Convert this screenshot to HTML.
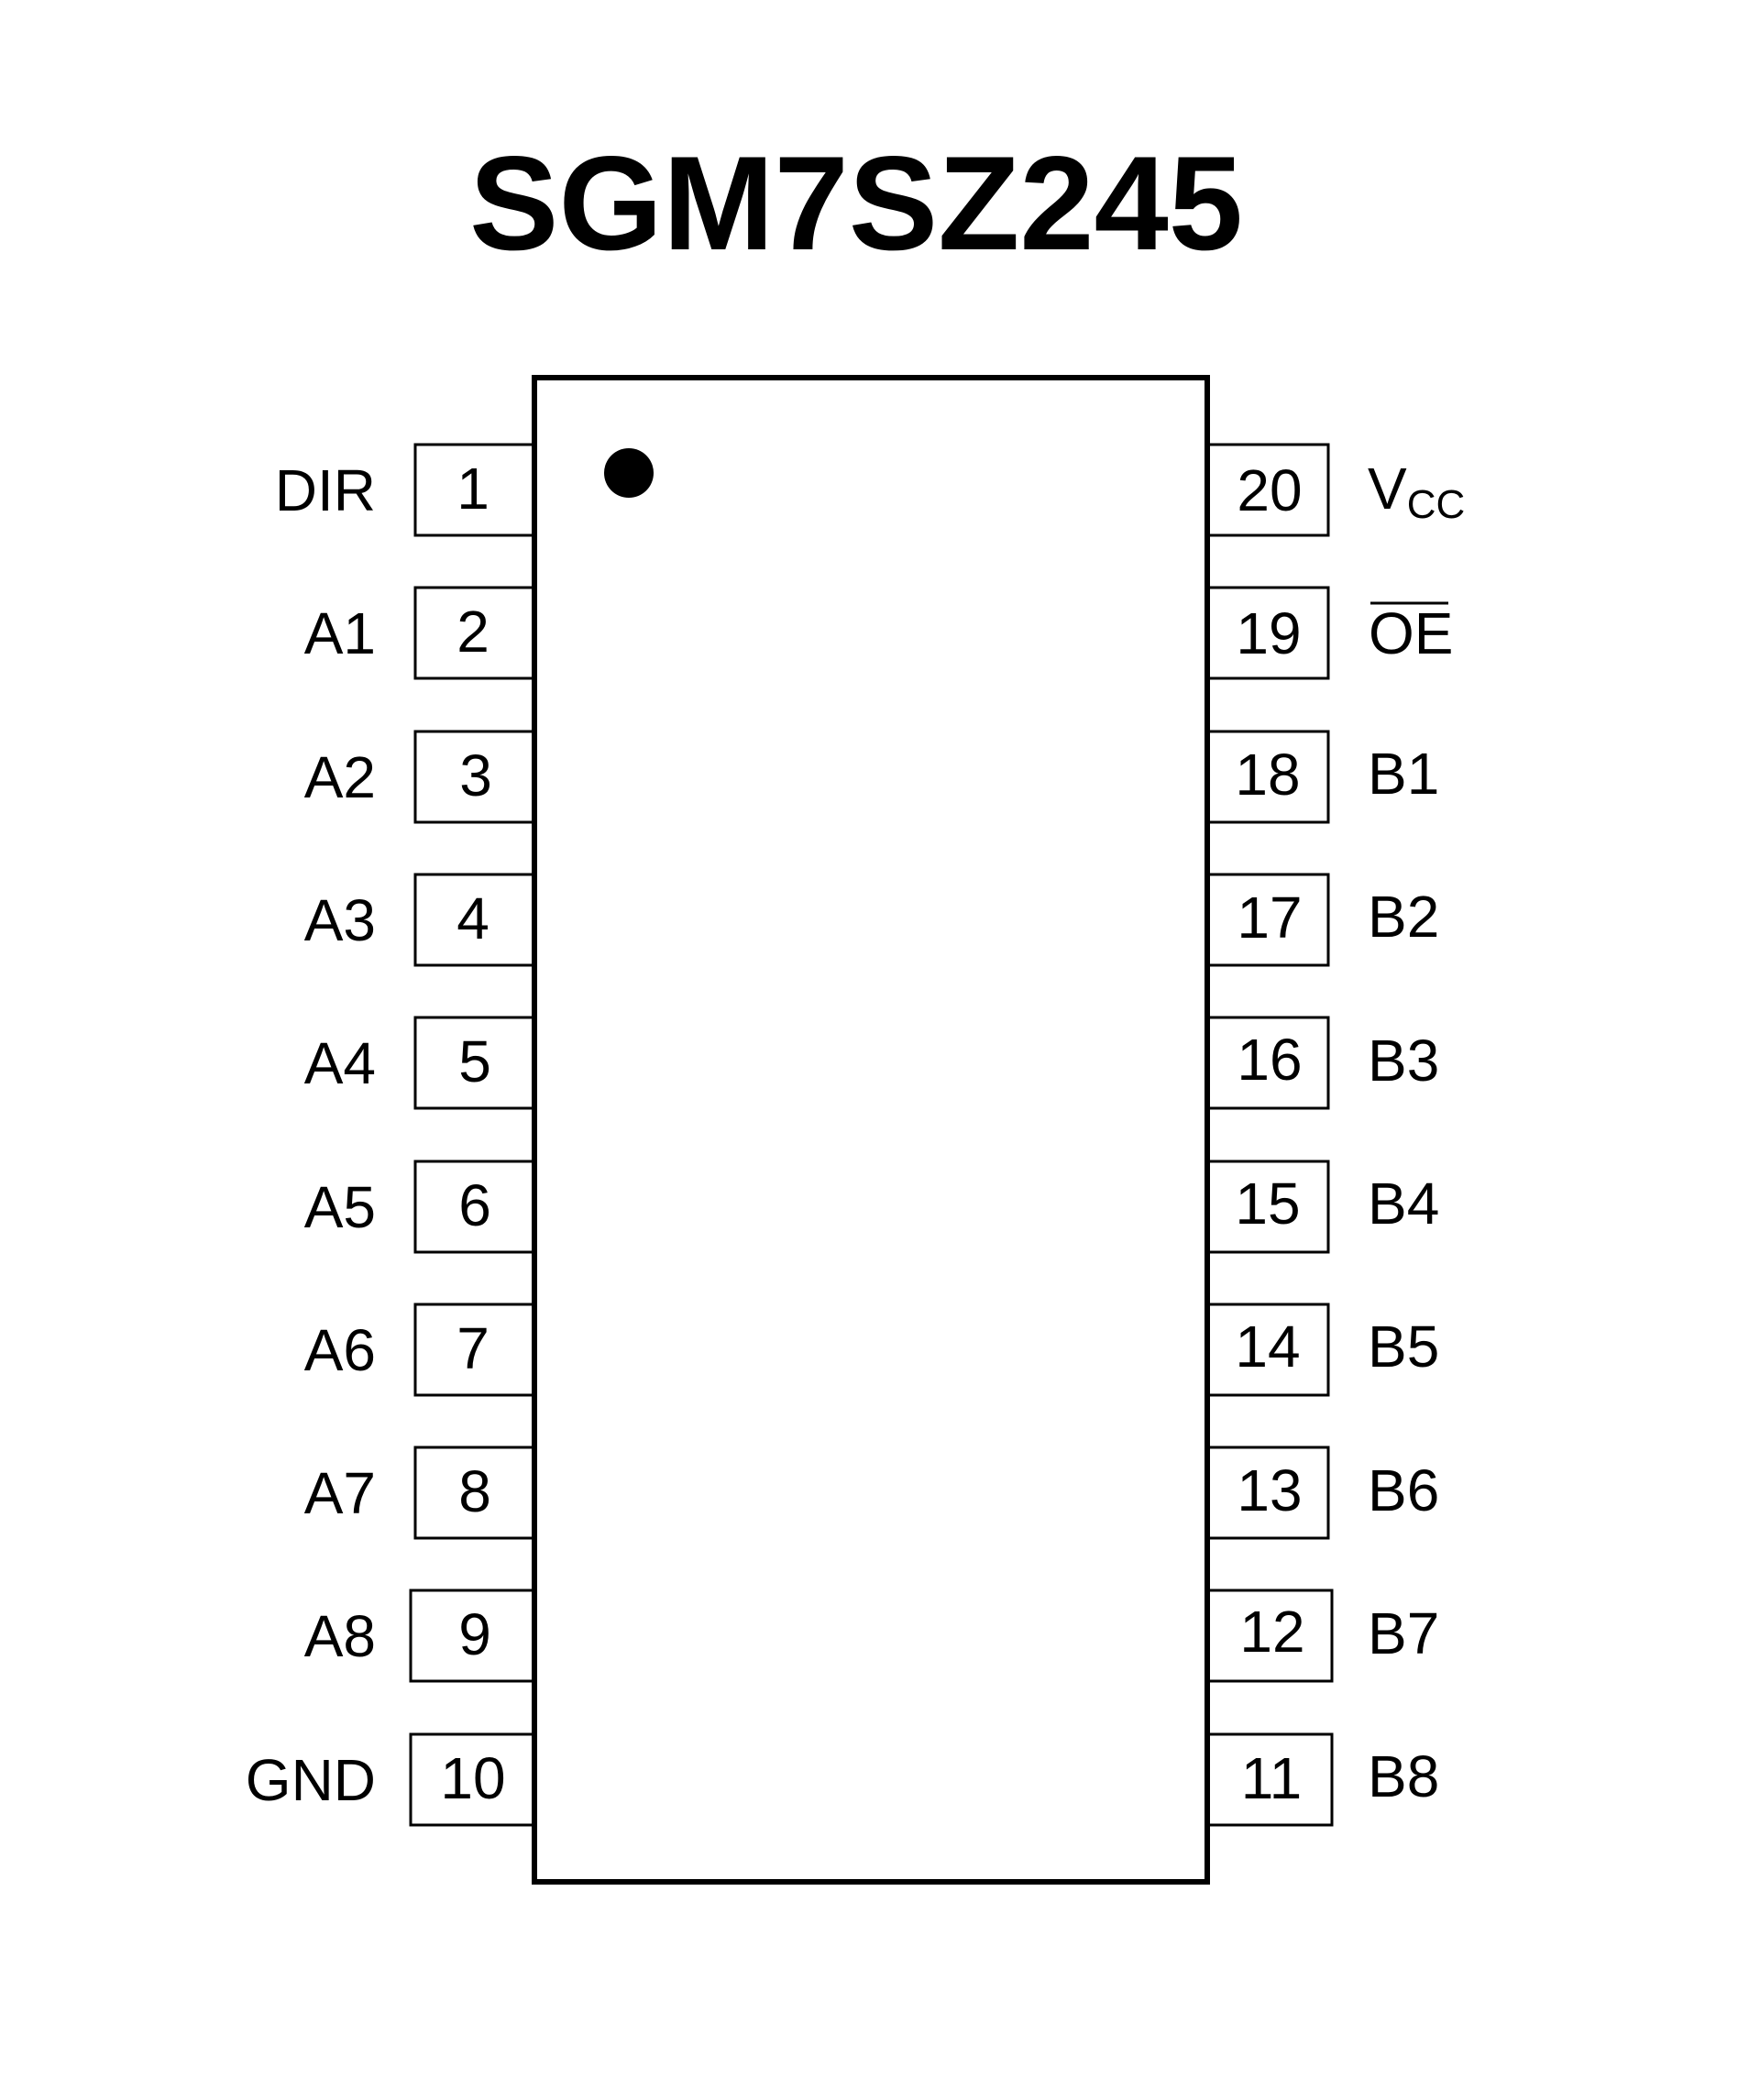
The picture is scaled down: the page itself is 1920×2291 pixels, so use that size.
<!DOCTYPE html>
<html><head><meta charset="utf-8"><style>
html,body{margin:0;padding:0;background:#fff;}
svg{display:block;}
text{font-family:"Liberation Sans",Arial,sans-serif;fill:#000;}
</style></head><body>
<svg width="1920" height="2291" viewBox="0 0 1920 2291" xmlns="http://www.w3.org/2000/svg">
<text x="934" y="272" text-anchor="middle" style="font-family:'Liberation Sans',sans-serif;font-weight:bold;font-size:146px">SGM7SZ245</text>
<rect x="583" y="412" width="734" height="1641" fill="none" stroke="#000" stroke-width="6"/>
<circle cx="686" cy="516" r="27" fill="#000"/>
<g fill="none" stroke="#000" stroke-width="3">
<path d="M580 485 H453 V584 H580"/>
<path d="M580 641 H453 V740 H580"/>
<path d="M580 798 H453 V897 H580"/>
<path d="M580 954 H453 V1053 H580"/>
<path d="M580 1110 H453 V1209 H580"/>
<path d="M580 1267 H453 V1366 H580"/>
<path d="M580 1423 H453 V1522 H580"/>
<path d="M580 1579 H453 V1678 H580"/>
<path d="M580 1735 H448 V1834 H580"/>
<path d="M580 1892 H448 V1991 H580"/>
<path d="M1320 485 H1449 V584 H1320"/>
<path d="M1320 641 H1449 V740 H1320"/>
<path d="M1320 798 H1449 V897 H1320"/>
<path d="M1320 954 H1449 V1053 H1320"/>
<path d="M1320 1110 H1449 V1209 H1320"/>
<path d="M1320 1267 H1449 V1366 H1320"/>
<path d="M1320 1423 H1449 V1522 H1320"/>
<path d="M1320 1579 H1449 V1678 H1320"/>
<path d="M1320 1735 H1453 V1834 H1320"/>
<path d="M1320 1892 H1453 V1991 H1320"/>
</g>
<g font-size="64" text-anchor="end">
<text x="410" y="557">DIR</text>
<text x="410" y="713">A1</text>
<text x="410" y="870">A2</text>
<text x="410" y="1026">A3</text>
<text x="410" y="1182">A4</text>
<text x="410" y="1339">A5</text>
<text x="410" y="1495">A6</text>
<text x="410" y="1651">A7</text>
<text x="410" y="1807">A8</text>
<text x="410" y="1964">GND</text>
</g>
<g font-size="64" text-anchor="middle">
<text x="516" y="555">1</text>
<text x="516" y="711">2</text>
<text x="519" y="868">3</text>
<text x="516" y="1024">4</text>
<text x="518" y="1180">5</text>
<text x="518" y="1337">6</text>
<text x="516" y="1493">7</text>
<text x="518" y="1649">8</text>
<text x="518" y="1805">9</text>
<text x="516" y="1962">10</text>
<text x="1385" y="557">20</text>
<text x="1384" y="713">19</text>
<text x="1383" y="867">18</text>
<text x="1385" y="1023">17</text>
<text x="1385" y="1178">16</text>
<text x="1383" y="1335">15</text>
<text x="1383" y="1491">14</text>
<text x="1385" y="1648">13</text>
<text x="1388" y="1802">12</text>
<text x="1387" y="1962">11</text>
</g>
<g font-size="64">
<text x="1492" y="555">V<tspan font-size="44" dy="10">CC</tspan></text>
<text x="1493" y="713">OE</text>
<text x="1492" y="866">B1</text>
<text x="1492" y="1022">B2</text>
<text x="1492" y="1179">B3</text>
<text x="1492" y="1335">B4</text>
<text x="1492" y="1491">B5</text>
<text x="1492" y="1648">B6</text>
<text x="1492" y="1804">B7</text>
<text x="1492" y="1960">B8</text>
</g>
<line x1="1495" y1="658" x2="1580" y2="658" stroke="#000" stroke-width="3"/>
</svg>
</body></html>
